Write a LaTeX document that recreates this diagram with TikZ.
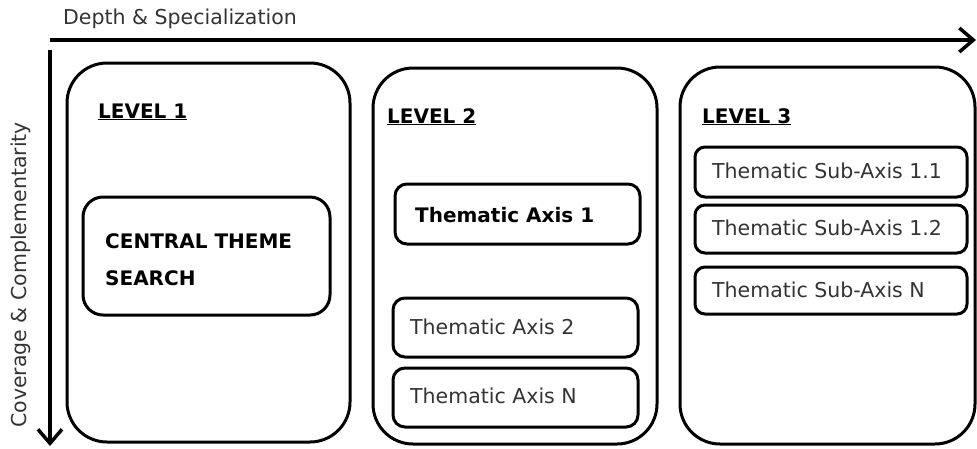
\documentclass[tikz,border=0pt]{standalone}
\usepackage{fontspec}
\setmainfont{DejaVu Sans}
\usetikzlibrary{arrows.meta}
\definecolor{txtgray}{HTML}{333333}
\begin{document}
\begin{tikzpicture}[x=1pt,y=-1pt,
  lvl/.style={draw, line width=3pt, rounded corners=40pt, inner sep=0pt},
  ibox/.style={draw, line width=3pt, rounded corners=12pt, inner sep=0pt},
  txt/.style={anchor=base west, inner sep=0pt, text=txtgray, font=\fontsize{20.5}{24}\selectfont},
  btxt/.style={anchor=base west, inner sep=0pt, text=black, font=\bfseries\fontsize{20}{24}\selectfont},
  axisarrow/.style={line width=4pt, -{Straight Barb[length=14pt,width=24pt,line width=3.5pt]}}
]
\useasboundingbox (0,0) rectangle (977,448);

% axes
\coordinate (h0) at (50,40);
\coordinate (h1) at (976,40);
\coordinate (v0) at (50,50);
\coordinate (v1) at (50,446);
\draw[axisarrow] (h0) -- (h1);
\draw[axisarrow] (v0) -- (v1);
\node[txt] (depth) at (63,24) {Depth \& Specialization};
\node[txt, rotate=90] (cover) at (27,428) {Coverage \& Complementarity};

% level boxes
\node[lvl, minimum width=283pt, minimum height=379pt] (L1) at (208.5,252.5) {};
\node[lvl, minimum width=284pt, minimum height=376pt] (L2) at (515,256) {};
\node[lvl, minimum width=295pt, minimum height=377pt] (L3) at (827.5,255.5) {};

\node[btxt] (l1t) at (98,118) {\underline{LEVEL 1}};
\node[btxt] (l2t) at (387,123) {\underline{LEVEL 2}};
\node[btxt] (l3t) at (702,123) {\underline{LEVEL 3}};

% level 1
\node[ibox, rounded corners=20pt, minimum width=247pt, minimum height=118pt] (cb) at (206.5,256) {};
\node[btxt, anchor=north west, align=left, font=\bfseries\fontsize{20}{37}\selectfont] (ct) at (105,233) {CENTRAL THEME\\SEARCH};

% level 2
\node[ibox, minimum width=245pt, minimum height=60pt] (a1) at (517.5,214) {};
\node[btxt] (a1t) at (415,222) {Thematic Axis 1};
\node[ibox, minimum width=245pt, minimum height=59pt] (a2) at (515.5,327.5) {};
\node[txt] (a2t) at (410,334) {Thematic Axis 2};
\node[ibox, minimum width=245pt, minimum height=59pt] (an) at (515.5,397.5) {};
\node[txt] (ant) at (410,403) {Thematic Axis N};

% level 3
\node[ibox, rounded corners=10pt, minimum width=272pt, minimum height=50pt] (s11) at (831,172) {};
\node[txt] (s11t) at (712,178) {Thematic Sub-Axis 1.1};
\node[ibox, rounded corners=10pt, minimum width=272pt, minimum height=48pt] (s12) at (831,229) {};
\node[txt] (s12t) at (712,235) {Thematic Sub-Axis 1.2};
\node[ibox, rounded corners=10pt, minimum width=272pt, minimum height=47pt] (sn) at (831,290.5) {};
\node[txt] (snt) at (712,297) {Thematic Sub-Axis N};
\end{tikzpicture}
\end{document}
